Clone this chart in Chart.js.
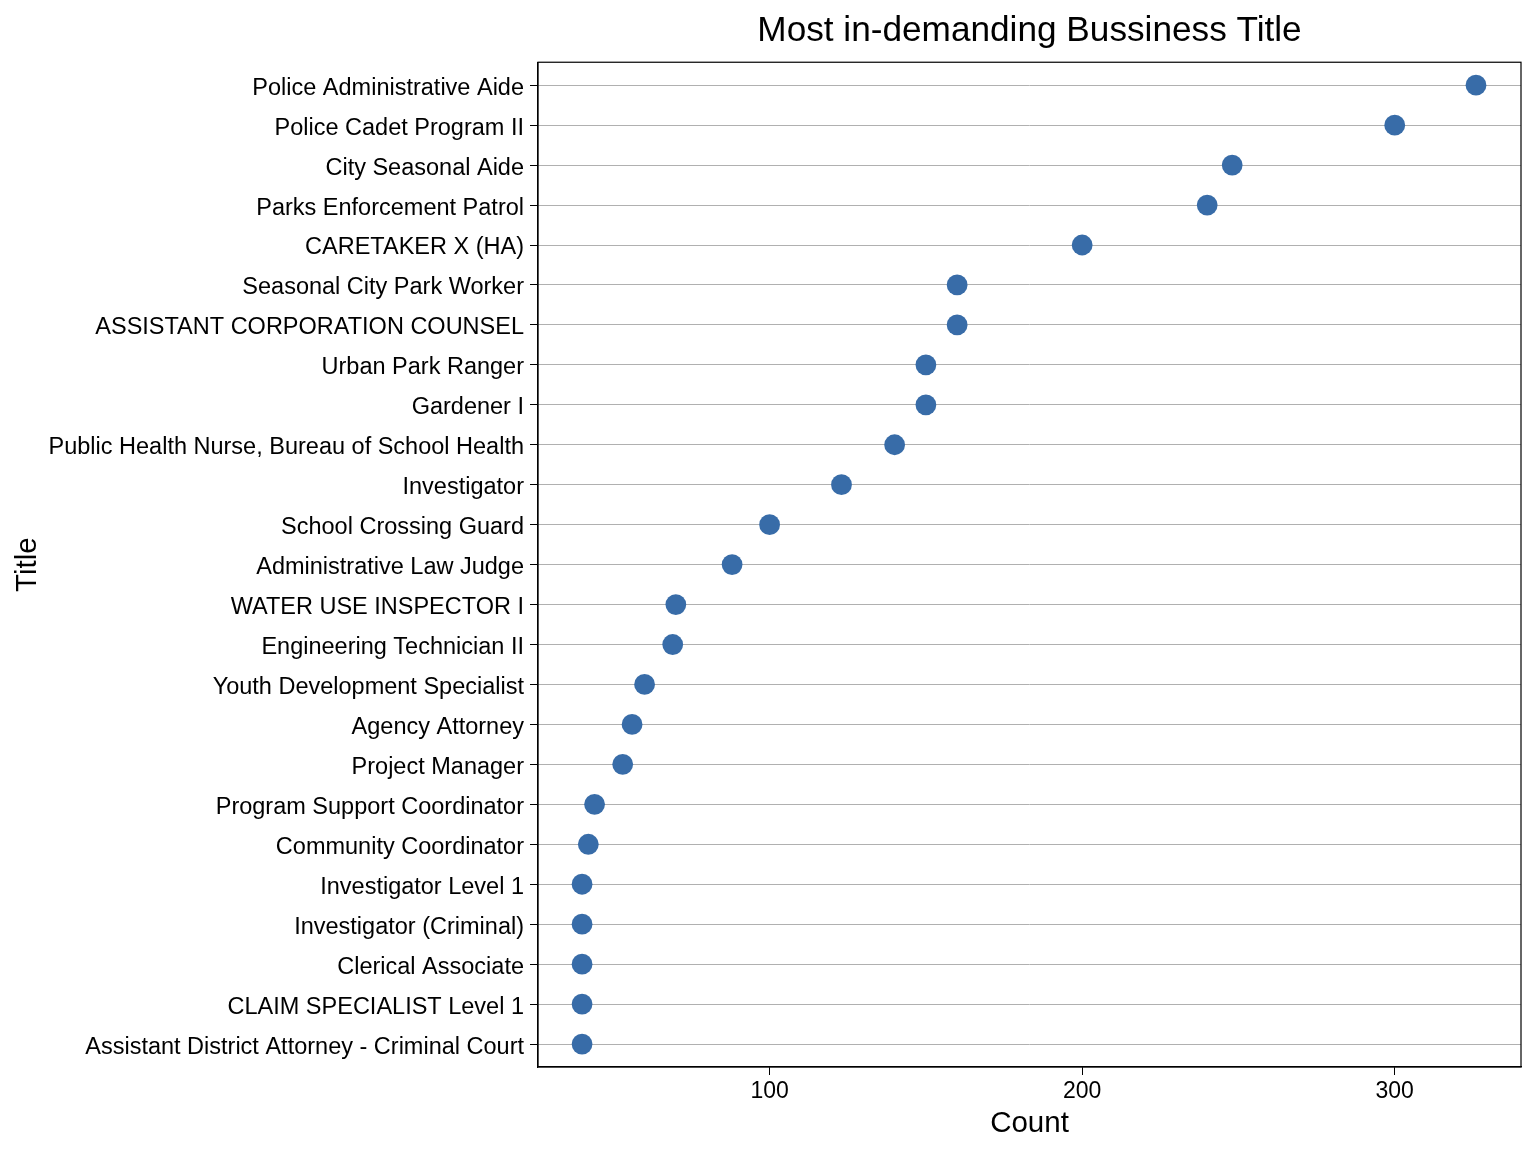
<!DOCTYPE html>
<html>
<head>
<meta charset="utf-8">
<title>Most in-demanding Bussiness Title</title>
<script src="https://cdn.jsdelivr.net/npm/chart.js@4"></script>
<style>
  html, body { margin: 0; padding: 0; background: #fff; }
  canvas { display: block; }
</style>
</head>
<body>
<canvas id="chart" width="1536" height="1152"></canvas>
<script>
// data, top row first
const titles = [
  'Police Administrative Aide', 'Police Cadet Program II', 'City Seasonal Aide',
  'Parks Enforcement Patrol', 'CARETAKER X (HA)', 'Seasonal City Park Worker',
  'ASSISTANT CORPORATION COUNSEL', 'Urban Park Ranger', 'Gardener I',
  'Public Health Nurse, Bureau of School Health', 'Investigator', 'School Crossing Guard',
  'Administrative Law Judge', 'WATER USE INSPECTOR I', 'Engineering Technician II',
  'Youth Development Specialist', 'Agency Attorney', 'Project Manager',
  'Program Support Coordinator', 'Community Coordinator', 'Investigator Level 1',
  'Investigator (Criminal)', 'Clerical Associate', 'CLAIM SPECIALIST Level 1',
  'Assistant District Attorney - Criminal Court'
];
const counts = [326, 300, 248, 240, 200, 160, 160, 150, 150, 140, 123, 100, 88, 70, 69, 60, 56, 53, 44, 42, 40, 40, 40, 40, 40];
const countTicks = [100, 200, 300];

const FONT = "'Liberation Sans', Arial, sans-serif";
Chart.defaults.font.family = FONT;
Chart.defaults.color = '#000';

// black frame round the plot area
const frame = {
  id: 'frame',
  afterDatasetsDraw(chart) {
    const { ctx, chartArea: a } = chart;
    ctx.save();
    ctx.strokeStyle = '#000';
    ctx.lineWidth = 1.2;
    ctx.strokeRect(a.left, a.top, a.right - a.left, a.bottom - a.top);
    ctx.restore();
  }
};

new Chart(document.getElementById('chart').getContext('2d'), {
  type: 'scatter',
  data: {
    datasets: [{
      data: counts.map((c, i) => ({ x: c, y: i })),
      backgroundColor: '#386ca8',
      borderWidth: 0,
      pointRadius: 10.4
    }]
  },
  options: {
    responsive: false,
    animation: false,
    devicePixelRatio: 1,
    layout: { padding: { top: 10, right: 15, bottom: 0, left: 10 } },
    plugins: {
      legend: { display: false },
      tooltip: { enabled: false },
      title: {
        display: true,
        text: 'Most in-demanding Bussiness Title',
        fullSize: false,
        font: { size: 35.2, weight: 'normal' },
        color: '#000',
        padding: { top: 0, bottom: 10 }
      }
    },
    scales: {
      x: {
        type: 'linear',
        min: 25.9,
        max: 340.4,
        afterBuildTicks(axis) { axis.ticks = countTicks.map(v => ({ value: v })); },
        afterFit(axis) { axis.height = 85; },
        ticks: { font: { size: 23 }, color: '#000', padding: 3, maxRotation: 0 },
        grid: { drawOnChartArea: false, tickColor: '#000', tickLength: 8, tickWidth: 1 },
        border: { color: '#000', width: 1.2 },
        title: { display: true, text: 'Count', font: { size: 29.5 }, color: '#000', padding: { top: 0, bottom: 10 } }
      },
      y: {
        type: 'linear',
        reverse: true,
        min: -0.575,
        max: 24.575,
        afterBuildTicks(axis) { axis.ticks = titles.map((t, i) => ({ value: i })); },
        afterFit(axis) { axis.width = 528; },
        // empty first line + small line height moves the text below the tick, like the original
        ticks: { font: { size: 23.5, lineHeight: '6px' }, color: '#000', padding: 6, autoSkip: false, callback: v => ['', titles[v]] },
        grid: { color: '#b0b0b0', lineWidth: 1, tickColor: '#000', tickLength: 8, tickWidth: 1 },
        border: { color: '#000', width: 1.2 },
        title: { display: true, text: 'Title', font: { size: 29.5 }, color: '#000', padding: { top: 0, bottom: 0 } }
      }
    }
  },
  plugins: [frame]
});
</script>
</body>
</html>
